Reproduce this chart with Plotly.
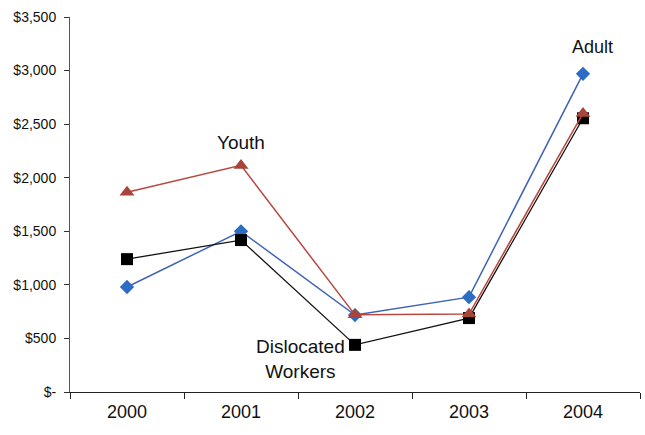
import plotly.graph_objects as go

years = ["2000", "2001", "2002", "2003", "2004"]
adult = [980, 1500, 718, 885, 2970]
youth = [1865, 2115, 720, 728, 2600]
dislocated = [1240, 1418, 440, 690, 2555]
y_tickvals = [0, 500, 1000, 1500, 2000, 2500, 3000, 3500]
y_ticktext = ["$-", "$500", "$1,000", "$1,500", "$2,000", "$2,500", "$3,000", "$3,500"]

fig = go.Figure()
fig.add_trace(go.Scatter(x=years, y=adult, mode="lines+markers", name="Adult",
                         line=dict(color="#3f63b5", width=1.5),
                         marker=dict(symbol="diamond", size=11, color="#2d6cc4")))
fig.add_trace(go.Scatter(x=years, y=dislocated, mode="lines+markers", name="Dislocated Workers",
                         line=dict(color="#111111", width=1.3),
                         marker=dict(symbol="square", size=12, color="#000000")))
fig.add_trace(go.Scatter(x=years, y=youth, mode="lines+markers", name="Youth",
                         line=dict(color="#b8483f", width=1.5),
                         marker=dict(symbol="triangle-up", size=13, color="#a8443a")))

fig.add_annotation(x=years.index("2001"), y=youth[1], text="Youth", showarrow=False,
                   yshift=23, font=dict(size=19, color="#111111"))
fig.add_annotation(x=years.index("2004"), y=adult[4], text="Adult", showarrow=False,
                   yshift=27, xshift=9, font=dict(size=18, color="#111111"))
fig.add_annotation(x=years.index("2002"), y=dislocated[2], text="Dislocated<br>Workers",
                   showarrow=False, xanchor="right", xshift=-8, yshift=-14,
                   font=dict(size=19, color="#111111"))

fig.update_layout(
    width=645, height=435,
    margin=dict(l=70, r=5, t=17, b=43),
    paper_bgcolor="white", plot_bgcolor="white",
    showlegend=False,
    font=dict(family="Liberation Sans, Arial, sans-serif", color="#111111"),
)
fig.update_xaxes(type="category", range=[-0.5, 4.5], showline=True, linecolor="#222222",
                 linewidth=1, ticks="outside", tickson="boundaries", ticklen=6,
                 tickcolor="#222222", showgrid=False, tickfont=dict(size=18), zeroline=False,
                 ticklabelstandoff=3)
fig.update_yaxes(range=[0, 3500], tickvals=y_tickvals, ticktext=y_ticktext,
                 showline=True, linecolor="#555555", linewidth=1, ticks="outside",
                 ticklen=5, tickcolor="#333333", showgrid=False, zeroline=False,
                 tickfont=dict(size=14), ticklabelstandoff=5)

fig.write_html("out.html", config={"displayModeBar": False},
               post_script="document.body.style.margin='0';document.body.style.padding='0';")
